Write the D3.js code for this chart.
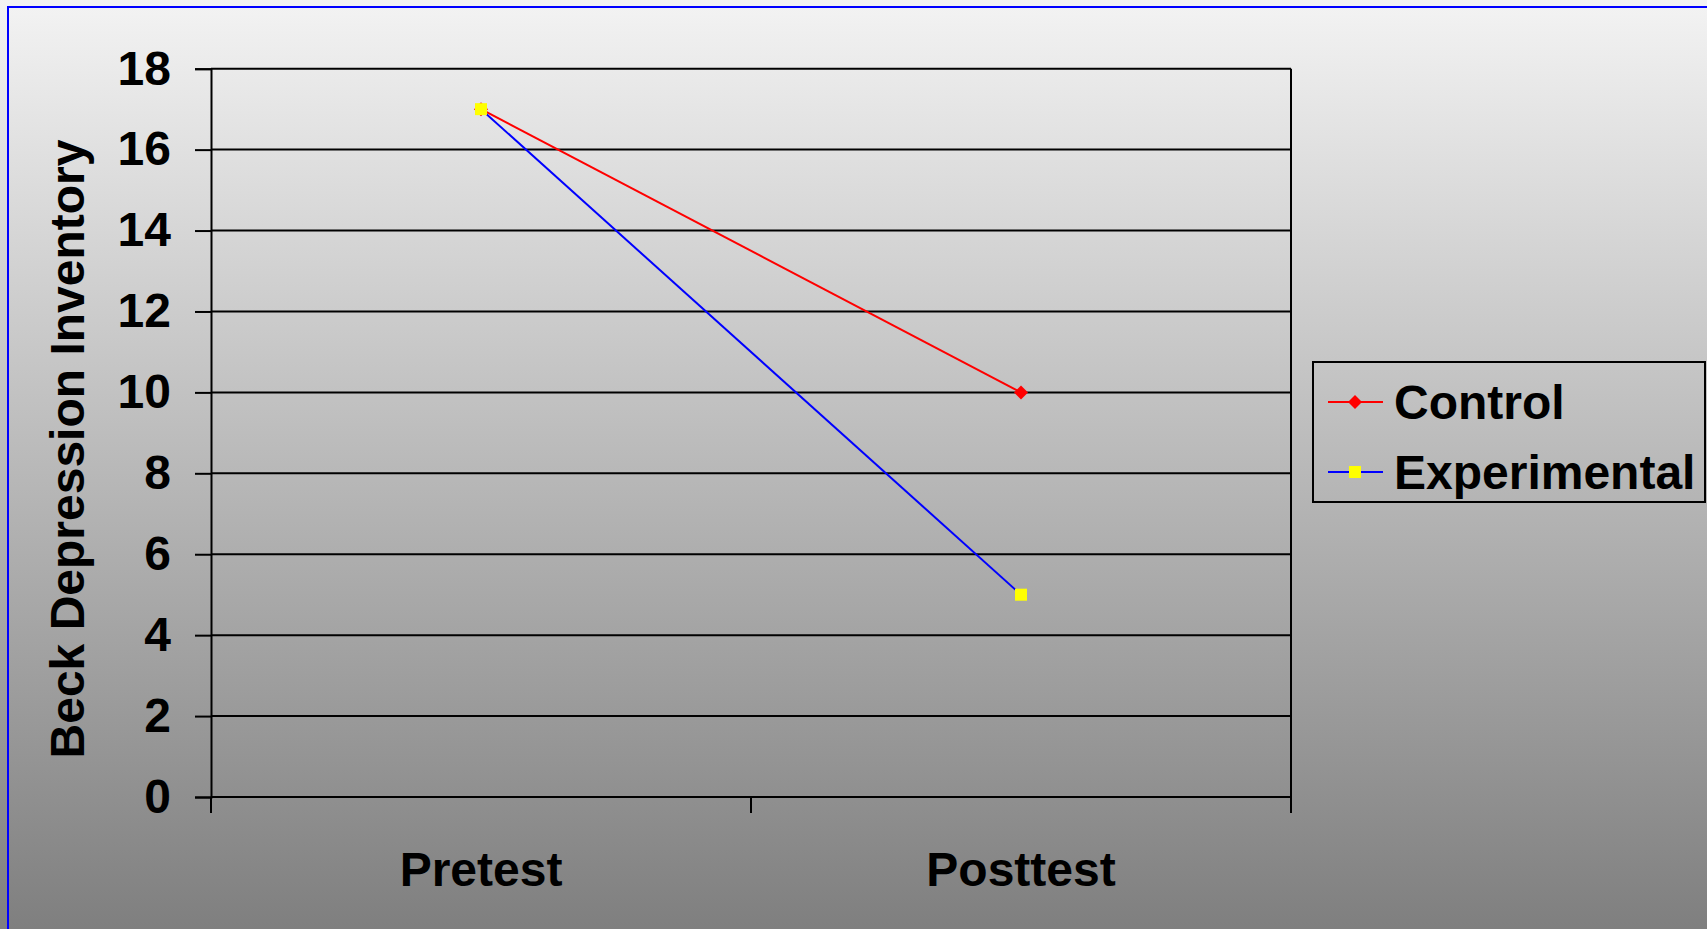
<!DOCTYPE html>
<html>
<head>
<meta charset="utf-8">
<script src="https://cdn.jsdelivr.net/npm/d3@7"></script>
<style>
  html, body { margin: 0; padding: 0; overflow: hidden; }
  svg { display: block; font-family: "Liberation Sans", Arial, sans-serif; }
</style>
</head>
<body>
<svg id="chart" width="1707" height="929"></svg>
<script>
// Beck Depression Inventory scores, pretest vs posttest
const categories = ["Pretest", "Posttest"];
const controlValues = [17, 10];
const experimentalValues = [17, 5];
const yTicks = [0, 2, 4, 6, 8, 10, 12, 14, 16, 18];
const seriesNames = ["Control", "Experimental"];

const W = 1707, H = 929;
const plot = { left: 211, right: 1291, top: 68.7, bottom: 797 };
const FS = 48;

const svg = d3.select("#chart");

// page background: vertical grey gradient
const defs = svg.append("defs");
const grad = defs.append("linearGradient")
  .attr("id", "bg").attr("x1", 0).attr("y1", 0).attr("x2", 0).attr("y2", 1);
grad.append("stop").attr("offset", "0%").attr("stop-color", "#f3f3f3");
grad.append("stop").attr("offset", "100%").attr("stop-color", "#7f7f7f");
svg.append("rect").attr("width", W).attr("height", H).attr("fill", "url(#bg)");

// blue frame
svg.append("rect")
  .attr("x", 8).attr("y", 7).attr("width", W + 20).attr("height", H + 20)
  .attr("fill", "none").attr("stroke", "#0000ff").attr("stroke-width", 2);

const x = d3.scaleBand().domain(categories).range([plot.left, plot.right]).padding(0);
const y = d3.scaleLinear().domain([0, 18]).range([plot.bottom, plot.top]);
const cx = c => x(c) + x.bandwidth() / 2;

// horizontal gridlines
svg.append("g").selectAll("line").data(yTicks).join("line")
  .attr("x1", plot.left).attr("x2", plot.right)
  .attr("y1", d => y(d)).attr("y2", d => y(d))
  .attr("stroke", "#000").attr("stroke-width", 2);

// right edge of plot area
svg.append("line")
  .attr("x1", plot.right).attr("x2", plot.right)
  .attr("y1", plot.top).attr("y2", plot.bottom)
  .attr("stroke", "#000").attr("stroke-width", 2);

// y axis
const yAxis = svg.append("g")
  .attr("transform", `translate(${plot.left},0)`)
  .call(d3.axisLeft(y).tickValues(yTicks).tickSize(16).tickPadding(24).tickFormat(d3.format("d")));
yAxis.select(".domain").attr("stroke", "#000").attr("stroke-width", 2);
yAxis.selectAll(".tick line").attr("stroke", "#000").attr("stroke-width", 2);
yAxis.selectAll(".tick text")
  .attr("fill", "#000").attr("font-size", FS).attr("font-weight", "bold")
  .attr("font-family", "Liberation Sans, Arial, sans-serif");

// x axis: baseline and category-boundary ticks
svg.append("line")
  .attr("x1", plot.left).attr("x2", plot.right)
  .attr("y1", plot.bottom).attr("y2", plot.bottom)
  .attr("stroke", "#000").attr("stroke-width", 2);
const boundaries = categories.map(c => x(c)).concat([x(categories[categories.length - 1]) + x.bandwidth()]);
svg.append("g").selectAll("line").data(boundaries).join("line")
  .attr("x1", d => d).attr("x2", d => d)
  .attr("y1", plot.bottom).attr("y2", plot.bottom + 16)
  .attr("stroke", "#000").attr("stroke-width", 2);
svg.append("g").selectAll("text").data(categories).join("text")
  .attr("x", d => cx(d)).attr("y", 886)
  .attr("text-anchor", "middle")
  .attr("font-size", FS).attr("font-weight", "bold").attr("fill", "#000")
  .text(d => d);

// y axis title
svg.append("text")
  .attr("transform", "translate(84,449) rotate(-90)")
  .attr("text-anchor", "middle")
  .attr("font-size", FS).attr("font-weight", "bold").attr("fill", "#000")
  .text("Beck Depression Inventory");

// series lines
const line = d3.line().x((d, i) => cx(categories[i])).y(d => y(d));
svg.append("path").datum(controlValues)
  .attr("d", line).attr("fill", "none").attr("stroke", "#ff0000").attr("stroke-width", 2);
svg.append("path").datum(experimentalValues)
  .attr("d", line).attr("fill", "none").attr("stroke", "#0000ff").attr("stroke-width", 2);

// markers
const diamond = (g, px, py, s) => g.append("path")
  .attr("d", `M${px},${py - s}L${px + s},${py}L${px},${py + s}L${px - s},${py}Z`)
  .attr("fill", "#ff0000");
const square = (g, px, py, s) => g.append("rect")
  .attr("x", px - s).attr("y", py - s).attr("width", 2 * s).attr("height", 2 * s)
  .attr("fill", "#ffff00");

const markers = svg.append("g");
controlValues.forEach((v, i) => diamond(markers, cx(categories[i]), y(v), 7));
experimentalValues.forEach((v, i) => square(markers, cx(categories[i]), y(v), 6));

// legend
const lg = svg.append("g");
lg.append("rect")
  .attr("x", 1313).attr("y", 362).attr("width", 392).attr("height", 140)
  .attr("fill", "none").attr("stroke", "#000").attr("stroke-width", 2);
const legendRows = [
  { name: seriesNames[0], color: "#ff0000", y: 402, mark: diamond, size: 7 },
  { name: seriesNames[1], color: "#0000ff", y: 472, mark: square, size: 6 }
];
legendRows.forEach(r => {
  lg.append("line").attr("x1", 1328).attr("x2", 1383).attr("y1", r.y).attr("y2", r.y)
    .attr("stroke", r.color).attr("stroke-width", 2);
  r.mark(lg, 1355, r.y, r.size);
  lg.append("text").attr("x", 1394).attr("y", r.y + 16.5)
    .attr("font-size", FS).attr("font-weight", "bold").attr("fill", "#000")
    .text(r.name);
});
</script>
</body>
</html>
